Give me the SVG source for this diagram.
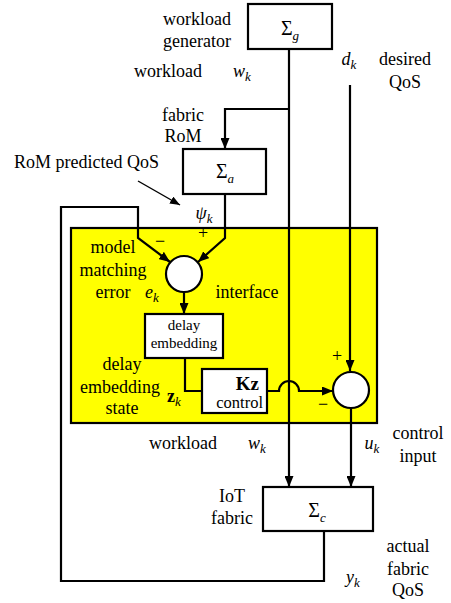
<svg xmlns="http://www.w3.org/2000/svg" width="451" height="603" viewBox="0 0 451 603" font-family="'Liberation Serif', serif">
<defs>
<marker id="ah" markerWidth="11" markerHeight="9" refX="11" refY="4.5" orient="auto" markerUnits="userSpaceOnUse">
<path d="M0,0 L11,4.5 L0,9 z" fill="#000"/>
</marker>
<marker id="ahs" markerWidth="10" markerHeight="8" refX="10" refY="4" orient="auto" markerUnits="userSpaceOnUse">
<path d="M0,0 L10,4 L0,8 z" fill="#000"/>
</marker>
<style>
text{font-family:'Liberation Serif', serif;fill:#000;}
.l{font-size:18px;text-anchor:middle;}
.m{font-size:18px;font-style:italic;text-anchor:middle;}
.s{font-size:13px;font-style:italic;}
.bx{fill:#fff;stroke:#000;stroke-width:2.2;}
.w{fill:none;stroke:#000;stroke-width:2.2;}
.sum{fill:#fff;stroke:#000;stroke-width:2.2;}
</style>
</defs>
<rect width="451" height="603" fill="#fff"/>

<g id="interface">
<rect x="71" y="228" width="306" height="195" fill="#ffff00" stroke="#000" stroke-width="2.2"/>
<text class="l" x="247" y="298">interface</text>
</g>

<g id="connectors">
<path class="w" d="M289,49 V487" marker-end="url(#ah)"/>
<path class="w" d="M289,109 H225 V149" marker-end="url(#ah)"/>
<path class="w" d="M225,194 V238 L198,262" marker-end="url(#ah)"/>
<path class="w" d="M324,531 V581 H61 V207 H138 V238 L170,262" marker-end="url(#ah)"/>
<path class="w" d="M184,292 V314" marker-end="url(#ah)"/>
<path class="w" d="M185,358 V391 H202"/>
<path class="w" d="M267,391 H279 A10,10 0 0 1 299,391 H333" marker-end="url(#ah)"/>
<path class="w" d="M350,85 V371" marker-end="url(#ah)"/>
<path class="w" d="M351,408 V487" marker-end="url(#ah)"/>
<path d="M138,181 L180,205" fill="none" stroke="#000" stroke-width="1.4" marker-end="url(#ahs)"/>
</g>

<g id="sigma_g">
<rect class="bx" x="248" y="4" width="84" height="45"/>
<text x="290" y="35" font-size="20" text-anchor="middle">Σ<tspan class="s" font-size="14" dy="5">g</tspan></text>
</g>

<g id="sigma_a">
<rect class="bx" x="183" y="149" width="83" height="45"/>
<text x="225" y="178" font-size="20" text-anchor="middle">Σ<tspan class="s" font-size="14" dy="5">a</tspan></text>
</g>

<g id="sum1">
<circle class="sum" cx="184" cy="274" r="18"/>
</g>

<g id="delay_embedding">
<rect class="bx" x="145" y="314" width="78" height="44"/>
<text x="184" y="330" font-size="15" text-anchor="middle">delay</text>
<text x="184" y="348" font-size="15" text-anchor="middle">embedding</text>
</g>

<g id="control">
<rect class="bx" x="202" y="369" width="65" height="44"/>
<text x="259" y="390" font-size="19" font-weight="bold" text-anchor="end">Kz</text>
<text x="263" y="408" font-size="16.5" text-anchor="end">control</text>
</g>

<g id="sum2">
<circle class="sum" cx="351" cy="390" r="18"/>
</g>

<g id="sigma_c">
<rect class="bx" x="263" y="487" width="110" height="44"/>
<text x="317" y="517" font-size="20" text-anchor="middle">Σ<tspan class="s" font-size="14" dy="5">c</tspan></text>
</g>

<g id="labels">
<text class="l" x="197" y="25">workload</text>
<text class="l" x="197" y="47">generator</text>
<text class="l" x="168" y="77">workload</text>
<text class="m" x="242" y="77">w<tspan class="s" dy="4">k</tspan></text>
<text class="m" x="349" y="65">d<tspan class="s" dy="4">k</tspan></text>
<text class="l" x="405" y="65">desired</text>
<text class="l" x="405" y="88">QoS</text>
<text class="l" x="183" y="121">fabric</text>
<text class="l" x="183" y="142">RoM</text>
<text x="14" y="168" font-size="18">RoM predicted QoS</text>
<text class="m" x="204" y="219">ψ<tspan class="s" dy="4">k</tspan></text>
<text x="160" y="247" font-size="18" text-anchor="middle">−</text>
<text x="203" y="239" font-size="18" text-anchor="middle">+</text>
<text class="l" x="113" y="253">model</text>
<text class="l" x="113" y="276">matching</text>
<text class="l" x="113" y="298">error</text>
<text class="m" x="152" y="298">e<tspan class="s" dy="4">k</tspan></text>
<text class="l" x="122" y="370">delay</text>
<text class="l" x="120" y="393">embedding</text>
<text class="l" x="122" y="414">state</text>
<text x="174" y="402" font-size="18" text-anchor="middle"><tspan font-weight="bold">z</tspan><tspan class="s" dy="4">k</tspan></text>
<text x="337" y="362" font-size="18" text-anchor="middle">+</text>
<text x="323" y="410" font-size="18" text-anchor="middle">−</text>
<text class="l" x="183" y="449">workload</text>
<text class="m" x="257" y="449">w<tspan class="s" dy="4">k</tspan></text>
<text class="m" x="372" y="449">u<tspan class="s" dy="4">k</tspan></text>
<text class="l" x="418" y="439">control</text>
<text class="l" x="418" y="462">input</text>
<text class="l" x="232" y="502">IoT</text>
<text class="l" x="232" y="524">fabric</text>
<text class="l" x="408" y="552">actual</text>
<text class="l" x="408" y="575">fabric</text>
<text class="l" x="408" y="596">QoS</text>
<text class="m" x="353" y="583">y<tspan class="s" dy="4">k</tspan></text>
</g>
</svg>
